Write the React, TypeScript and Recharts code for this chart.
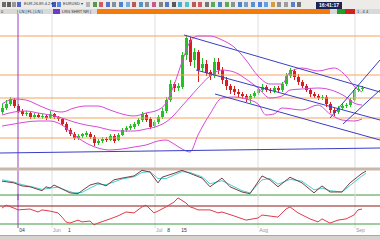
import React from 'react'
import { ComposedChart, Bar, Line, XAxis, YAxis, ReferenceLine } from 'recharts'

// candles, one per session (index = session number)
const OPEN = [46, 50, 54, 58, 52, 47, 44, 45, 41, 43, 41, 42, 40, 44, 41, 39, 34, 28, 24, 20, 22, 23, 24, 21, 15, 17, 19, 18, 22, 18, 23, 28, 30, 31, 34, 38, 43, 39, 32, 36, 41, 47, 58, 74, 70, 71, 103, 118, 98, 106, 90, 94, 86, 82, 96, 88, 78, 72, 69, 66, 64, 62, 59, 62, 65, 68, 71, 68, 67, 70, 68, 74, 82, 87, 81, 76, 72, 68, 64, 62, 60, 61, 54, 48, 46, 50, 52, 53, 58, 68, 69]
const HIGH = [54, 58, 61, 60, 54, 49, 47, 46, 45, 45, 44, 43, 47, 45, 42, 40, 36, 30, 26, 24, 25, 27, 26, 23, 19, 21, 21, 24, 24, 25, 30, 32, 34, 36, 40, 46, 45, 41, 38, 43, 50, 61, 78, 76, 75, 106, 123, 121, 110, 108, 100, 98, 88, 100, 100, 91, 81, 74, 72, 69, 66, 64, 64, 67, 71, 74, 73, 70, 72, 72, 76, 85, 90, 89, 84, 78, 74, 70, 66, 64, 63, 63, 56, 50, 52, 54, 55, 60, 70, 72, 72]
const LOW = [44, 48, 52, 50, 45, 42, 42, 39, 39, 40, 39, 38, 39, 39, 37, 32, 26, 22, 18, 18, 20, 21, 19, 12, 13, 15, 16, 17, 15, 17, 22, 26, 28, 29, 32, 36, 36, 29, 30, 34, 39, 45, 56, 66, 67, 69, 98, 92, 90, 76, 86, 82, 78, 80, 84, 74, 68, 64, 63, 61, 59, 56, 55, 60, 63, 66, 66, 65, 65, 66, 66, 72, 80, 78, 73, 70, 66, 61, 60, 58, 58, 51, 45, 42, 44, 48, 50, 51, 56, 66, 67]
const CLOSE = [50, 54, 59, 52, 47, 44, 45, 41, 43, 41, 42, 40, 44, 41, 39, 34, 28, 24, 20, 22, 24, 25, 21, 15, 17, 19, 18, 22, 17, 23, 28, 30, 32, 34, 38, 44, 38, 31, 36, 41, 47, 58, 74, 70, 72, 103, 120, 96, 106, 88, 94, 85, 82, 96, 88, 78, 72, 68, 66, 64, 62, 59, 62, 65, 69, 71, 68, 67, 70, 68, 74, 82, 88, 81, 76, 72, 68, 64, 62, 60, 61, 54, 48, 45, 50, 52, 53, 58, 68, 69, 70]

// bollinger bands [session, value]
const UPPER_BAND = [[0, 54], [3, 59], [6, 58], [9, 53], [12, 48], [15, 46], [18, 50], [21, 52], [24, 52], [27, 48], [30, 44], [33, 42], [36, 45], [39, 48], [41, 55], [43, 73], [45, 96], [47, 116], [49, 122], [52, 122], [55, 118], [58, 111], [61, 98], [64, 82], [67, 74], [70, 74], [72, 86], [75, 90], [79, 87], [83, 90], [86, 82], [88, 72], [90, 66]]
const MID_BAND = [[0, 43], [3, 46], [6, 47], [9, 45], [12, 43], [15, 40], [18, 36], [21, 33], [24, 31], [27, 28], [30, 27], [33, 27], [36, 29], [39, 32], [41, 36], [43, 43], [45, 52], [47, 61], [49, 70], [52, 82], [55, 88], [58, 86], [61, 79], [64, 70], [67, 60], [70, 62], [72, 68], [75, 69], [79, 70], [83, 67], [86, 61], [88, 55], [90, 53]]
const LOWER_BAND = [[0, 32], [3, 34], [6, 36], [9, 37], [12, 37], [15, 33], [18, 23], [21, 15], [24, 10], [27, 8], [30, 9], [33, 11], [36, 13], [39, 17], [41, 18], [43, 14], [45, 9], [47, 6], [49, 23], [52, 44], [55, 60], [58, 61], [61, 59], [64, 54], [66, 43], [68, 44], [70, 50], [75, 48], [79, 53], [82, 44], [85, 38], [88, 37], [90, 39]]

const FIB_LEVELS = [122, 83, 60, 40, 20]
const BASE_LINE = [[-0.5, 5], [94.5, 10]]
const CHANNEL_DOWN = [
  [[45.5, 123], [94.5, 66]],
  [[48.5, 88], [94.5, 38]],
  [[53.25, 64], [94.5, 18]],
]
const CHANNEL_UP = [
  [[82, 40], [94.5, 98]],
  [[85.25, 34], [94.5, 68]],
]

// stochastic %K / %D
const STOCH_K = [[0, 52], [3, 48], [5, 41], [7, 39], [10, 30], [11, 39], [12, 36], [13, 43], [15, 34], [17, 25], [19, 23], [20, 30], [22, 43], [24, 48], [26, 41], [28, 55], [30, 59], [33, 64], [35, 77], [37, 73], [39, 48], [40, 61], [43, 70], [45, 77], [47, 70], [50, 59], [52, 39], [55, 59], [57, 39], [60, 27], [62, 23], [65, 64], [67, 55], [69, 39], [72, 61], [75, 48], [78, 25], [80, 41], [82, 27], [85, 27], [87, 48], [90, 70], [91, 75]]
const STOCH_D = [[0, 55], [3, 50], [5, 44], [8, 38], [10, 33], [12, 36], [14, 38], [16, 31], [18, 25], [20, 26], [22, 36], [24, 45], [26, 44], [28, 50], [30, 57], [33, 62], [35, 72], [37, 74], [39, 58], [41, 58], [43, 66], [45, 74], [47, 72], [50, 62], [52, 46], [55, 53], [57, 44], [60, 30], [62, 25], [65, 55], [67, 58], [69, 45], [72, 56], [75, 52], [78, 32], [80, 36], [82, 30], [85, 27], [87, 42], [90, 64], [91, 70]]
const STOCH_LEVELS = [80, 20]

const OSC = [[0, 73], [1, 83], [3, 73], [4, 67], [7, 70], [9, 60], [10, 67], [12, 63], [14, 57], [15, 43], [16, 27], [17, 23], [19, 33], [20, 27], [22, 30], [23, 17], [24, 23], [27, 37], [29, 47], [31, 60], [33, 57], [35, 77], [36, 83], [38, 57], [39, 63], [41, 77], [43, 93], [44, 107], [46, 90], [47, 77], [48, 73], [49, 67], [52, 67], [54, 57], [55, 60], [58, 47], [61, 33], [64, 40], [65, 50], [69, 43], [71, 70], [72, 77], [73, 67], [74, 57], [77, 37], [79, 27], [80, 37], [82, 23], [84, 33], [86, 37], [88, 50], [89, 67], [90, 70]]
const OSC_LEVELS = [80, 20]

const GRID_X = [12.5, 38.25, 64, 88.25]
const MARKER_X = 4
const TICK_POS = [4.3, 12.7, 16.5, 38.5, 41.3, 44.8, 64.3, 88.5]
const TICK_LABELS = ['04', 'Jun', '1', 'Jul', '8', '15', 'Aug', 'Sep']

const X_DOMAIN: [number, number] = [-0.5, 94.5]
const UP = '#22c322'
const DOWN = '#d81e1e'
const ORANGE = '#f3a45e'
const PURPLE = '#9a3cc0'
const MAGENTA = '#d84ad8'
const BLUE = '#3a3ec4'
const GRID = '#dedede'

const candles = OPEN.map((o, i) => ({ i, open: o, high: HIGH[i], low: LOW[i], close: CLOSE[i] }))
const pts = (arr: number[][]) => arr.map(([i, v]) => ({ i, v }))

const Candle = (props: any) => {
  const { x, y, width, height, payload } = props
  if (!payload) return null
  const top = Math.min(y, y + height)
  const span = Math.abs(height)
  const ppu = span / (payload.high - payload.low || 1)
  const color = payload.close >= payload.open ? UP : DOWN
  const cx = Math.round(x + width / 2)
  const bodyTop = top + (payload.high - Math.max(payload.open, payload.close)) * ppu
  const bodyH = Math.max(1, Math.abs(payload.close - payload.open) * ppu)
  return (
    <g>
      <line x1={cx + 0.5} x2={cx + 0.5} y1={top} y2={top + span} stroke={color} />
      <rect x={cx - 1} y={bodyTop} width={3} height={bodyH} fill={color} />
    </g>
  )
}

const TimeTick = (p: any) => {
  const label = TICK_LABELS[TICK_POS.indexOf(p.payload.value)]
  const month = label.length === 3
  return (
    <text x={p.x} y={p.y + 4} fontSize={5} fill={month ? '#999' : '#333'} fontFamily="Liberation Sans, Arial">
      {label}
    </text>
  )
}

const m0 = { top: 0, right: 0, bottom: 0, left: 0 }

const TOOL_ICONS = ['#555', '#444', '#888', '#3050c0', '#2040b0', '#4070e0', '#aaa', '#3a8a3a', '#d04040', '#3a60c0', '#708090', '#3070d0', '#60a0e0', '#b04040', '#4080c0', '#708090', '#c04080', '#707070', '#4060c0', '#404040', '#30a0d0', '#30c0c0', '#b04040', '#d04040', '#606060', '#40a040', '#3070c0', '#40a040', '#808080', '#3070c0', '#6090c0', '#4080d0', '#3070e0', '#4a90e0', '#d09020', '#808080', '#909090', '#4070c0', '#606060']

const Toolbar = () => (
  <>
    <div style={{ position: 'absolute', left: 0, top: 0, width: 380, height: 9, background: '#ecebe8' }}>
      {TOOL_ICONS.map((c, k) => {
        const x = k < 4 ? 2 + k * 5 : k < 6 ? 52 + (k - 4) * 5 : 86 + (k - 6) * 6.6
        return <div key={k} style={{ position: 'absolute', left: x, top: 2, width: 4, height: 5, background: c, opacity: 0.85 }} />
      })}
      <span style={{ position: 'absolute', left: 24, top: 1, fontSize: 4, color: '#333', fontFamily: 'Liberation Sans' }}>EUR.26.89.4.2 ▾</span>
      <span style={{ position: 'absolute', left: 63, top: 1, fontSize: 4, color: '#333', fontFamily: 'Liberation Sans' }}>EURUSD ▾</span>
      <div style={{ position: 'absolute', left: 316, top: 2, width: 26, height: 7, background: '#1c2456', color: '#fff', fontSize: 5, lineHeight: '7px', textAlign: 'center', fontFamily: 'Liberation Sans', fontWeight: 700 }}>16:41:17</div>
    </div>
    <div style={{ position: 'absolute', left: 0, top: 9, width: 380, height: 5, background: '#d9d9d9', fontSize: 4, lineHeight: '5px', color: '#333', fontFamily: 'Liberation Sans' }}>
      <span style={{ position: 'absolute', left: 1 }}>0</span>
      <span style={{ position: 'absolute', left: 17 }}>| LN | FL | LN |</span>
      <div style={{ position: 'absolute', left: 53, top: 0, width: 7, height: 5, background: '#6a3cc8' }} />
      <span style={{ position: 'absolute', left: 62 }}>LRG SHRT NR |</span>
      <div style={{ position: 'absolute', left: 97, top: 0, width: 233, height: 5, background: '#f47a0c' }} />
      <div style={{ position: 'absolute', left: 337, top: 0, width: 8, height: 5, background: '#22a022' }} />
      <div style={{ position: 'absolute', left: 345, top: 0, width: 10, height: 5, background: '#d42020' }} />
      <span style={{ position: 'absolute', left: 357 }}>1 . 4 4</span>
    </div>
  </>
)

export default function App() {
  return (
    <div style={{ position: 'absolute', left: 0, top: 0, width: 380, height: 240, background: '#fff', overflow: 'hidden' }}>
      <Toolbar />

      <div style={{ position: 'absolute', left: 0, top: 14 }}>
        <ComposedChart width={380} height={146} data={candles} margin={m0}>
          <XAxis dataKey="i" type="number" domain={X_DOMAIN} hide />
          <YAxis type="number" domain={[-2, 144]} hide />
          {GRID_X.map((x) => <ReferenceLine key={'g' + x} x={x} stroke={GRID} />)}
          {FIB_LEVELS.map((v) => <ReferenceLine key={'f' + v} y={v} stroke={ORANGE} />)}
          <ReferenceLine x={MARKER_X} stroke={PURPLE} />
          <Line data={pts(UPPER_BAND)} dataKey="v" type="monotone" stroke={MAGENTA} dot={false} isAnimationActive={false} />
          <Line data={pts(MID_BAND)} dataKey="v" type="monotone" stroke={MAGENTA} dot={false} isAnimationActive={false} />
          <Line data={pts(LOWER_BAND)} dataKey="v" type="monotone" stroke={MAGENTA} dot={false} isAnimationActive={false} />
          <Bar dataKey={(d: any) => [d.low, d.high]} shape={Candle} barSize={3} isAnimationActive={false} />
          <ReferenceLine segment={BASE_LINE.map(([x, y]) => ({ x, y }))} stroke={BLUE} />
          {CHANNEL_DOWN.concat(CHANNEL_UP).map((seg, k) => (
            <ReferenceLine key={'c' + k} segment={seg.map(([x, y]) => ({ x, y }))} stroke={BLUE} />
          ))}
        </ComposedChart>
      </div>

      <div style={{ position: 'absolute', left: 0, top: 160 }}>
        <ComposedChart width={380} height={40} margin={m0}>
          <XAxis dataKey="i" type="number" domain={X_DOMAIN} hide />
          <YAxis type="number" domain={[8.5, 100.8]} hide />
          {GRID_X.map((x) => <ReferenceLine key={'g' + x} x={x} stroke={GRID} />)}
          <ReferenceLine x={MARKER_X} stroke={PURPLE} />
          <ReferenceLine y={STOCH_LEVELS[0]} stroke="#c9b7ab" strokeWidth={3} />
          <ReferenceLine y={STOCH_LEVELS[1]} stroke="#3c9a3c" />
          <Line data={pts(STOCH_D)} dataKey="v" type="linear" stroke="#46d2d2" dot={false} isAnimationActive={false} />
          <Line data={pts(STOCH_K)} dataKey="v" type="linear" stroke="#7a3c44" dot={false} isAnimationActive={false} />
        </ComposedChart>
      </div>

      <div style={{ position: 'absolute', left: 0, top: 194 }}>
        <ComposedChart width={380} height={42} margin={m0}>
          <XAxis dataKey="i" type="number" domain={X_DOMAIN} ticks={TICK_POS} tick={<TimeTick />} interval={0}
            tickLine={false} axisLine={false} tickSize={0} tickMargin={0} height={8} />
          <YAxis type="number" domain={[6.7, 120]} hide />
          {GRID_X.map((x) => <ReferenceLine key={'g' + x} x={x} stroke={GRID} />)}
          <ReferenceLine x={MARKER_X} stroke={PURPLE} />
          <ReferenceLine y={OSC_LEVELS[0]} stroke="#8e1616" />
          <ReferenceLine y={OSC_LEVELS[1]} stroke="#3c9a3c" />
          <Line data={pts(OSC)} dataKey="v" type="linear" stroke="#e23a4a" dot={false} isAnimationActive={false} />
        </ComposedChart>
      </div>

      <div style={{ position: 'absolute', left: 0, top: 235, width: 380, height: 5, background: '#d6d3cf', borderTop: '1px solid #a8a8a8' }} />
    </div>
  )
}
